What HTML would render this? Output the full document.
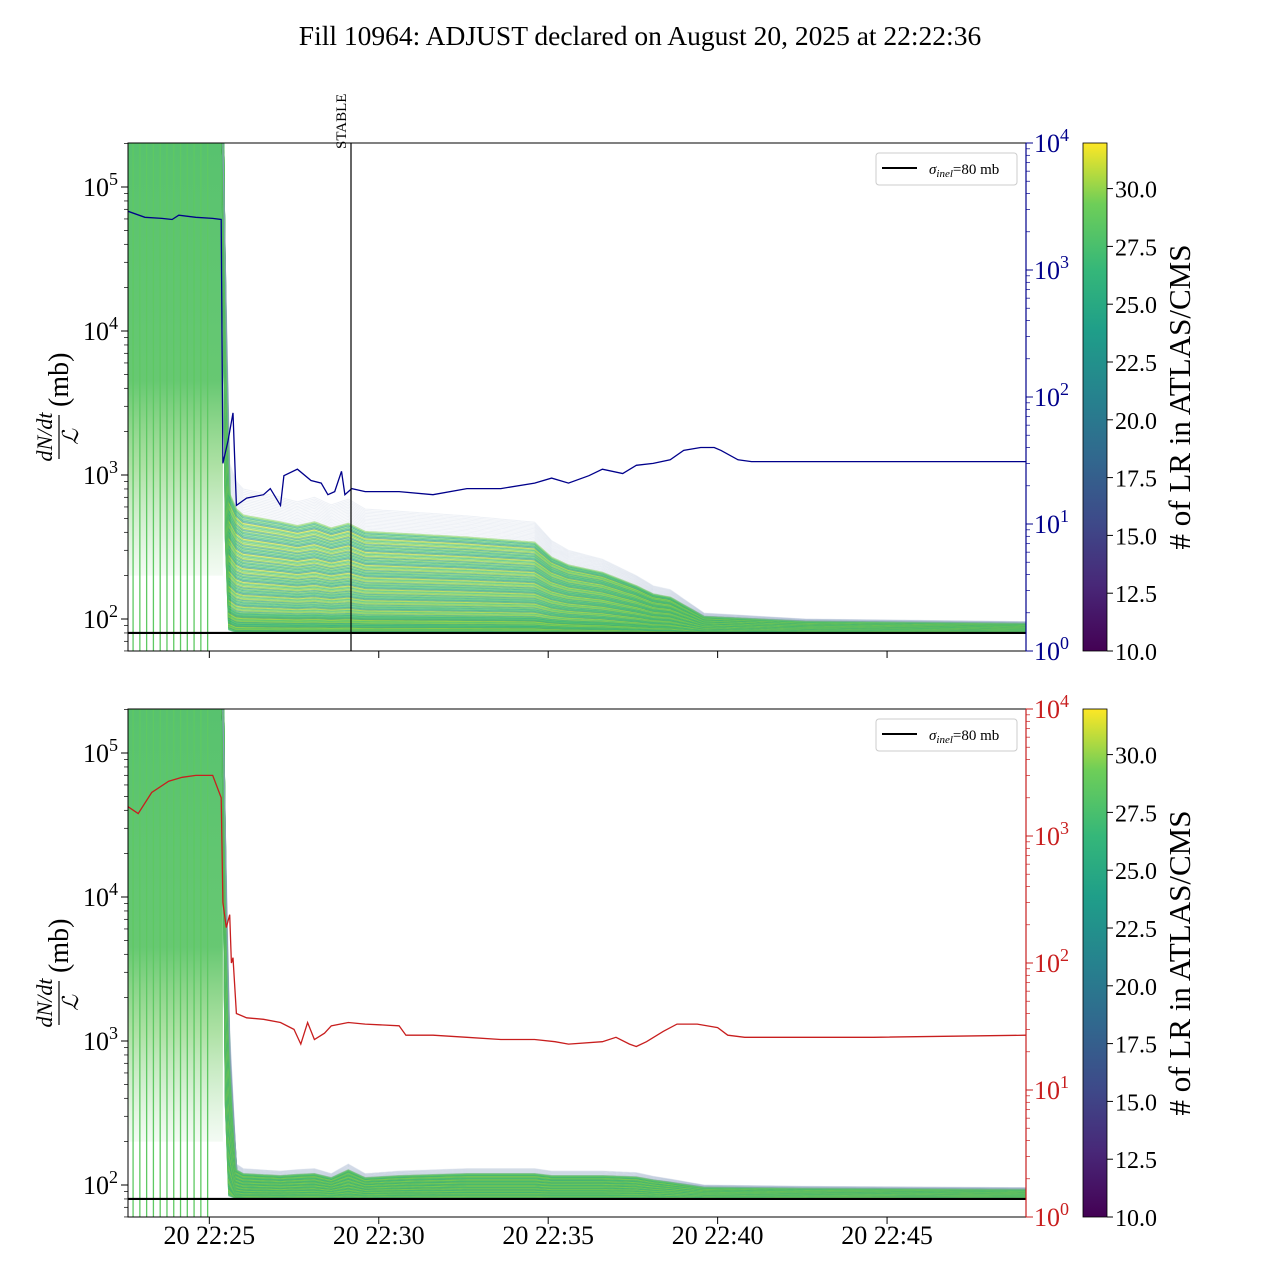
<!DOCTYPE html>
<html><head><meta charset="utf-8"><style>
body{margin:0;background:#fff}
svg{display:block;font-family:"Liberation Serif","DejaVu Serif",serif}
</style></head><body>
<svg id="s" width="1280" height="1280" viewBox="0 0 1280 1280" xmlns="http://www.w3.org/2000/svg">
<defs>
<linearGradient id="vir" x1="0" y1="1" x2="0" y2="0">
<stop offset="0" stop-color="#440154"/><stop offset="0.13" stop-color="#482878"/><stop offset="0.25" stop-color="#3e4989"/><stop offset="0.38" stop-color="#31688e"/><stop offset="0.5" stop-color="#26828e"/><stop offset="0.63" stop-color="#1f9e89"/><stop offset="0.75" stop-color="#35b779"/><stop offset="0.88" stop-color="#6ece58"/><stop offset="1" stop-color="#fde725"/>
</linearGradient>
<linearGradient id="early" x1="0" y1="0" x2="0" y2="1">
<stop offset="0" stop-color="#4fbf67" stop-opacity="0.95"/><stop offset="0.55" stop-color="#56c263" stop-opacity="0.9"/><stop offset="0.75" stop-color="#6cc95c" stop-opacity="0.55"/><stop offset="1" stop-color="#8bd48a" stop-opacity="0.1"/>
</linearGradient>
<clipPath id="c1"><rect x="128" y="143" width="898" height="508"/></clipPath>
<clipPath id="c2"><rect x="128" y="709" width="898" height="508"/></clipPath>
</defs>
<text x="640" y="45" text-anchor="middle" font-size="27.5">Fill 10964: ADJUST declared on August 20, 2025 at 22:22:36</text>
<g id="g1"></g>
<g id="g2"></g>
</svg>
<script>
const tickLabels=["20 22:25","20 22:30","20 22:35","20 22:40","20 22:45"];
const tickTimes=[2.4,7.4,12.4,17.4,22.4];
const bandTimes1=[0,2.8,3.0,3.2,3.4,4.5,5,5.5,6,6.5,7,8,10,12,12.5,13,14,15,15.5,16,17,20,26.5];
const bandUpper1=[2e5,2e5,1200,900,800,700,650,700,620,680,580,560,520,470,350,300,260,200,170,160,110,100,96];
const bandLower1=[1500,1500,85,82,82,82,82,82,82,82,82,82,82,82,82,82,82,82,82,82,81,81,81];
const bandUpper2=[2e5,2e5,1200,140,130,125,128,130,120,140,120,125,130,130,125,125,125,122,115,110,100,98,96];
const bandLower2=[1500,1500,85,82,82,82,82,82,82,82,82,82,82,82,82,82,82,82,82,82,81,81,81];
const blueT=[0,0.5,1,1.3,1.5,2,2.5,2.75,2.8,2.95,3.1,3.2,3.5,4,4.2,4.5,4.6,5,5.4,5.7,5.9,6.1,6.3,6.4,6.6,7,8,9,10,11,12,12.5,13,13.6,14,14.6,15,15.5,16,16.4,16.9,17.3,17.5,18,18.4,20,26.5];
const blueV=[2900,2600,2550,2500,2700,2600,2550,2500,30,45,75,14,16,17,19,14,24,27,22,21,17,18,26,17,19,18,18,17,19,19,21,23,21,24,27,25,29,30,32,38,40,40,38,32,31,31,31];
const redT=[0,0.3,0.7,1.2,1.6,2,2.5,2.75,2.8,2.9,3.0,3.05,3.1,3.2,3.5,4,4.5,4.9,5.1,5.3,5.5,5.8,6,6.5,7,8,8.2,9,10,11,12,12.6,13,14,14.4,14.8,15,15.3,15.8,16.2,16.8,17.4,17.7,18.2,19,22,26.5];
const redV=[1700,1500,2200,2700,2900,3000,3000,2000,300,190,240,100,110,40,37,36,34,30,23,34,25,28,32,34,33,32,27,27,26,25,25,24,23,24,26,23,22,24,29,33,33,31,27,26,26,26,27];
const fillerTimes=[0.15,0.35,0.55,0.75,0.95,1.15,1.35,1.55,1.75,1.95,2.15,2.35];
const NS="http://www.w3.org/2000/svg";
const X0=128,X1=1026,TMIN=0,TMAX=26.5;
const xs=t=>X0+(t-TMIN)/(TMAX-TMIN)*(X1-X0);
function mk(par,tag,at){const e=document.createElementNS(NS,tag);for(const k in at)e.setAttribute(k,at[k]);par.appendChild(e);return e;}
function interp(ts,vs,t){if(t<=ts[0])return vs[0];for(let i=1;i<ts.length;i++){if(t<=ts[i]){const f=(t-ts[i-1])/(ts[i]-ts[i-1]);return Math.exp(Math.log(vs[i-1])*(1-f)+Math.log(vs[i])*f);}}return vs[vs.length-1];}
const vcol=["#35b779","#5ec962","#22a884","#7ad151","#2a9d8a","#addc30","#5ec962","#3fbc73","#cde11d","#21918c"];
function panel(g,top,clip,upper,lower,lineT,lineV,lineCol,showLabels){
  const bot=top+508;
  const yl=v=>top+44+(5-Math.log10(v))*144;
  const yr=v=>bot-Math.log10(v)*127;
  const cg=mk(g,"g",{"clip-path":`url(#${clip})`});
  const ea=mk(cg,"rect",{x:X0,y:top,width:xs(bandTimes1[1])-X0,height:yl(200)-top,fill:"url(#early)"});
  
  
  fillerTimes.forEach(t=>{
    const l=mk(cg,"line",{x1:xs(t),x2:xs(t),y1:top,y2:bot,stroke:"#5ec962","stroke-width":1.3});
    
    
  });
  const N=110;
  for(let k=0;k<N;k++){
    const f=Math.pow(k/(N-1),1.3);
    let d="";
    const t0=bandTimes1[1];
    for(let t=t0;t<=TMAX+0.01;t+=0.1){
      const u=interp(bandTimes1,upper,t),l=interp(bandTimes1,lower,t);
      const v=t===t0?u:Math.exp(Math.log(l)+(Math.log(u)-Math.log(l))*f);
      d+=(d?"L":"M")+xs(t).toFixed(1)+","+yl(v).toFixed(1);
    }
    const grey=k>N*0.85;
    const p=mk(cg,"path",{d:d,fill:"none",stroke:grey?"#8fa0c0":vcol[k%vcol.length],"stroke-width":grey?1:(k<N*0.2?3:2),"stroke-opacity":grey?0.15:0.55});
    
    
  }
  const h=mk(cg,"line",{x1:X0,x2:X1,y1:yl(80),y2:yl(80),stroke:"#000","stroke-width":2.2});
  
  
  let d="";lineT.forEach((t,i)=>{d+=(i?"L":"M")+xs(t).toFixed(1)+","+yr(lineV[i]).toFixed(1);});
  const sl=mk(cg,"path",{d:d,fill:"none",stroke:lineCol,"stroke-width":1.3});
  
  
  const fr=mk(g,"rect",{x:X0,y:top,width:X1-X0,height:508,fill:"none",stroke:"#000","stroke-width":1});
  
  
  mk(g,"line",{x1:X1,x2:X1,y1:top,y2:bot,stroke:lineCol,"stroke-width":1.2});
  for(let e=1;e<=5;e++){for(let m=1;m<10;m++){const v=m*Math.pow(10,e);const y=yl(v);if(y<top||y>bot)continue;
    mk(g,"line",{x1:X0-(m==1?7:4),x2:X0,y1:y,y2:y,stroke:"#000","stroke-width":m==1?1:0.7});}}
  [2,3,4,5].forEach(e=>{const t=mk(g,"text",{x:118,y:yl(Math.pow(10,e))+9,"text-anchor":"end","font-size":26});
    t.innerHTML=`10<tspan dy="-11" font-size="18">${e}</tspan>`;
    });
  for(let e=0;e<=4;e++){for(let m=1;m<10;m++){const v=m*Math.pow(10,e);const y=yr(v);if(y<top-0.5||y>bot+0.5)continue;
    mk(g,"line",{x1:X1,x2:X1+(m==1?7:4),y1:y,y2:y,stroke:lineCol,"stroke-width":m==1?1:0.7});}
    const t=mk(g,"text",{x:1034,y:yr(Math.pow(10,e))+9,"font-size":26,fill:lineCol});
    t.innerHTML=`10<tspan dy="-11" font-size="18">${e}</tspan>`;
    }
  tickTimes.forEach((t,i)=>{mk(g,"line",{x1:xs(t),x2:xs(t),y1:bot,y2:bot+7,stroke:"#000"});
    if(showLabels){const tx=mk(g,"text",{x:xs(t),y:bot+27,"text-anchor":"middle","font-size":26});tx.textContent=tickLabels[i];
      }});
  const yg=mk(g,"g",{transform:`translate(62,${top+254}) rotate(-90)`});
  
  const a=mk(yg,"text",{x:-40,y:-10,"text-anchor":"middle","font-size":22,"font-style":"italic"});a.textContent="dN/dt";
  mk(yg,"line",{x1:-62,x2:-18,y1:-3,y2:-3,stroke:"#000","stroke-width":1.2});
  const b=mk(yg,"text",{x:-40,y:16,"text-anchor":"middle","font-size":22,"font-style":"italic"});b.textContent="ℒ";
  const c=mk(yg,"text",{x:-10,y:6,"font-size":28});c.textContent="(mb)";
  const lg=mk(g,"g",{});
  mk(lg,"rect",{x:876,y:top+10,width:141,height:32,rx:3,fill:"#fff",stroke:"#ccc"});
  mk(lg,"line",{x1:882,x2:917,y1:top+25,y2:top+25,stroke:"#000","stroke-width":2});
  const lt=mk(lg,"text",{x:929,y:top+31,"font-size":15});
  lt.innerHTML=`<tspan font-style="italic">σ</tspan><tspan font-size="11" dy="3" font-style="italic">inel</tspan><tspan dy="-3">=80 mb</tspan>`;
  const cb=mk(g,"rect",{x:1083,y:top,width:24,height:508,fill:"url(#vir)",stroke:"#000","stroke-width":0.8});
  
  ["10.0","12.5","15.0","17.5","20.0","22.5","25.0","27.5","30.0"].forEach((s,i)=>{const y=bot-i*57.8;
    mk(g,"line",{x1:1107,x2:1113,y1:y,y2:y,stroke:"#000"});
    const t=mk(g,"text",{x:1115,y:y+9,"font-size":24});t.textContent=s;
    });
  const ct=mk(g,"text",{transform:`translate(1190,${top+254}) rotate(-90)`,"text-anchor":"middle","font-size":31});
  ct.textContent="# of LR in ATLAS/CMS";
}
const g1=document.getElementById("g1"),g2=document.getElementById("g2");
panel(g1,143,"c1",bandUpper1,bandLower1,blueT,blueV,"#00008b",false);
panel(g2,709,"c2",bandUpper2,bandLower2,redT,redV,"#c81e1e",true);
const sl=mk(g1,"line",{x1:351,x2:351,y1:143,y2:651,stroke:"#000","stroke-width":1.2});


const st=mk(g1,"text",{transform:"translate(346,149) rotate(-90)","font-size":15});st.textContent="STABLE";


</script>
</body></html>
